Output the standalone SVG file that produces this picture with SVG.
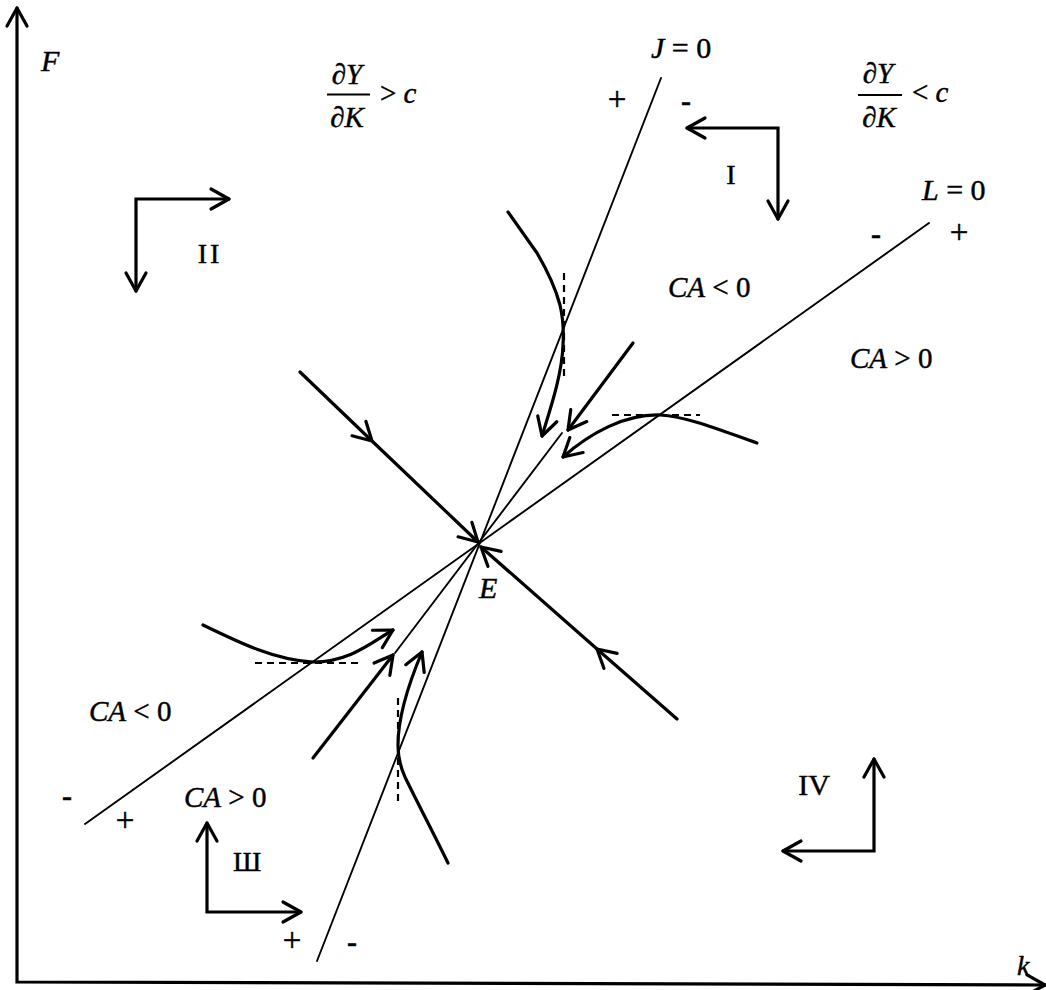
<svg xmlns="http://www.w3.org/2000/svg" width="1046" height="990" viewBox="0 0 1046 990">
<style>
text{font-family:"Liberation Serif","Times New Roman",serif;fill:#000;stroke:#000;stroke-width:0.45}
.lbl{font-size:29px}
.big{font-size:30px}
.it{font-style:italic}
.sign{font-size:28px}
.plus{font-size:33px}
.minus{font-size:30px;font-weight:bold}
.axis{fill:none;stroke:#000;stroke-width:3.2;stroke-linecap:round;stroke-linejoin:miter}
.iso{fill:none;stroke:#000;stroke-width:1.9;stroke-linecap:round}
.traj{fill:none;stroke:#000;stroke-width:3.2;stroke-linecap:round;stroke-linejoin:round}
.dash{fill:none;stroke:#000;stroke-width:2.2;stroke-dasharray:7 5}
.bar{stroke:#000;stroke-width:2}
</style>
<defs>
<marker id="ah" markerUnits="userSpaceOnUse" viewBox="-20 -12 24 24" refX="0" refY="0" markerWidth="24" markerHeight="24" orient="auto-start-reverse" overflow="visible">
<path d="M-18,-10 L0,0 L-18,10" fill="none" stroke="#000" stroke-width="3.2" stroke-linecap="round" stroke-linejoin="round"/>
</marker>
</defs>
<g id="axes">
<path class="axis" d="M17,8 L17,982 L1045,985" marker-start="url(#ah)" marker-end="url(#ah)"/>
<text class="big it" x="41" y="71">F</text>
<text class="sign it" x="1017" y="975">k</text>
</g>
<g id="isoclines">
<line id="J0" class="iso" x1="661" y1="78" x2="317" y2="961"/>
<line id="L0" class="iso" x1="929" y1="223" x2="85" y2="824"/>
<line id="mid" class="iso" x1="562" y1="433" x2="395" y2="653"/>
</g>
<g id="connectors">
<path class="traj" d="M300,372 L372,441 L478,542" marker-mid="url(#ah)" marker-end="url(#ah)"/>
<path class="traj" d="M677,719 L597,649 L481,547" marker-mid="url(#ah)" marker-end="url(#ah)"/>
<path class="traj" d="M633,343 L568,430" marker-end="url(#ah)"/>
<path class="traj" d="M313,758 L393,655" marker-end="url(#ah)"/>
<path class="traj" d="M508,212 L537,253 C547,270 556,290 560,305 C563,318 564,330 563,345 C562,375 550,410 542,436" marker-end="url(#ah)"/>
<path class="traj" d="M757,443 C725,432 690,417 660,415 C625,414 590,433 563,457" marker-end="url(#ah)"/>
<path class="traj" d="M203,625 C240,643 275,660 313,662 C350,662 372,642 393,630" marker-end="url(#ah)"/>
<path class="traj" d="M448,863 C432,830 416,800 405,777 C400,766 398,757 398,745 C398,715 411,678 422,652" marker-end="url(#ah)"/>
<line class="dash" x1="564" y1="273" x2="564" y2="377"/>
<line class="dash" x1="612" y1="415" x2="700" y2="415"/>
<line class="dash" x1="255" y1="663" x2="360" y2="663"/>
<line class="dash" x1="398" y1="698" x2="398" y2="803"/>
</g>
<g id="region-I">
<path class="axis" d="M687,128 L778,128 L778,219" marker-start="url(#ah)" marker-end="url(#ah)"/>
<text class="sign" x="731" y="184" text-anchor="middle">I</text>
</g>
<g id="region-II">
<path class="axis" d="M229,199 L136,199 L136,291" marker-start="url(#ah)" marker-end="url(#ah)"/>
<text class="sign" x="210" y="263" text-anchor="middle" letter-spacing="3">II</text>
</g>
<g id="region-III">
<path class="axis" d="M207,823 L207,912 L301,912" marker-start="url(#ah)" marker-end="url(#ah)"/>
<text class="sign" x="247" y="871" text-anchor="middle">Ш</text>
</g>
<g id="region-IV">
<path class="axis" d="M874,759 L874,851 L783,851" marker-start="url(#ah)" marker-end="url(#ah)"/>
<text class="big" x="814" y="795" text-anchor="middle">IV</text>
</g>
<g id="labels">
<text class="big" x="651" y="58"><tspan class="it">J</tspan> = 0</text>
<text class="big" x="922" y="200"><tspan class="it">L</tspan> = 0</text>
<text class="big it" x="479" y="598">E</text>
<text class="lbl" x="668" y="297"><tspan class="it">CA</tspan> &lt; 0</text>
<text class="lbl" x="850" y="368"><tspan class="it">CA</tspan> &gt; 0</text>
<text class="lbl" x="89" y="721"><tspan class="it">CA</tspan> &lt; 0</text>
<text class="lbl" x="184" y="807"><tspan class="it">CA</tspan> &gt; 0</text>
<text class="plus" x="617" y="110" text-anchor="middle">+</text>
<text class="minus" x="686" y="111" text-anchor="middle">-</text>
<text class="minus" x="876" y="244" text-anchor="middle">-</text>
<text class="plus" x="959" y="243" text-anchor="middle">+</text>
<text class="minus" x="67" y="806" text-anchor="middle">-</text>
<text class="plus" x="125" y="831" text-anchor="middle">+</text>
<text class="plus" x="292" y="951" text-anchor="middle">+</text>
<text class="minus" x="352" y="952" text-anchor="middle">-</text>
</g>
<g id="fraction-left">
<text class="lbl" x="347" y="84" text-anchor="middle">∂<tspan class="it">Y</tspan></text>
<line class="bar" x1="327" y1="94.5" x2="370" y2="94.5"/>
<text class="lbl" x="347" y="127" text-anchor="middle">∂<tspan class="it">K</tspan></text>
<text class="lbl" x="380" y="103">&gt; <tspan class="it">c</tspan></text>
</g>
<g id="fraction-right">
<text class="lbl" x="878" y="83" text-anchor="middle">∂<tspan class="it">Y</tspan></text>
<line class="bar" x1="858" y1="95" x2="902" y2="95"/>
<text class="lbl" x="879" y="127" text-anchor="middle">∂<tspan class="it">K</tspan></text>
<text class="lbl" x="912" y="102">&lt; <tspan class="it">c</tspan></text>
</g>
</svg>
